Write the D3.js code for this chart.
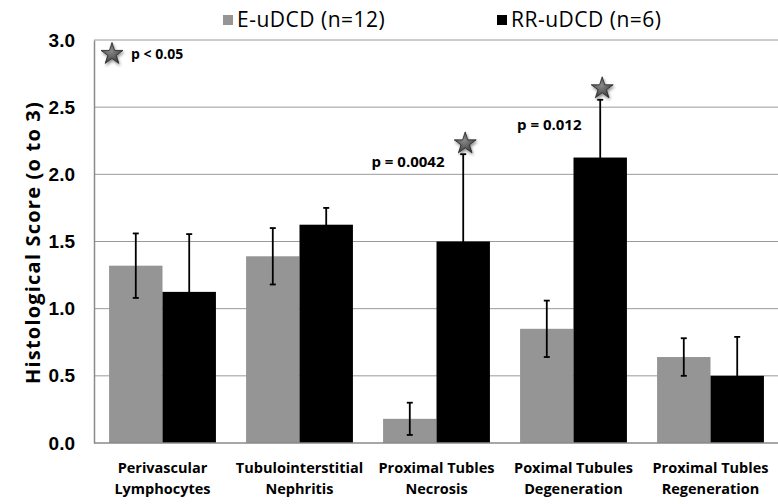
<!DOCTYPE html>
<html>
<head>
<meta charset="utf-8">
<script src="https://cdn.jsdelivr.net/npm/d3@7"></script>
<style>
  body { margin: 0; background: #fff; }
  svg { font-family: "Open Sans", sans-serif; font-weight: bold; }
</style>
</head>
<body>
<div id="chart"></div>
<script>
const categories = [
  ["Perivascular", "Lymphocytes"],
  ["Tubulointerstitial", "Nephritis"],
  ["Proximal Tubles", "Necrosis"],
  ["Poximal Tubules", "Degeneration"],
  ["Proximal Tubles", "Regeneration"]
];
const seriesNames = ["E-uDCD (n=12)", "RR-uDCD (n=6)"];
const eValues = [1.32, 1.39, 0.18, 0.85, 0.64];
const eErrors = [0.24, 0.21, 0.12, 0.21, 0.14];
const rrValues = [1.125, 1.625, 1.5, 2.125, 0.5];
const rrErrors = [0.43, 0.125, 0.65, 0.43, 0.29];
const yTicks = [0, 0.5, 1.0, 1.5, 2.0, 2.5, 3.0];
// significance markers on the RR series
const stars = [{ cat: 2, value: 2.23 }, { cat: 3, value: 2.64 }];
const pLabels = [{ cat: 2, value: 2.09, text: "p = 0.0042" }, { cat: 3, value: 2.37, text: "p = 0.012" }];

const width = 778;
const height = 504;
const margin = { top: 40, right: -1, bottom: 61, left: 94 };

const svg = d3.select("#chart").append("svg")
  .attr("width", width)
  .attr("height", height);

const x = d3.scaleBand()
  .domain(d3.range(categories.length))
  .range([margin.left, width - margin.right])
  .paddingInner(0.22)
  .paddingOuter(0.11);

const x1 = d3.scaleBand()
  .domain([0, 1])
  .range([0, x.bandwidth()]);

const y = d3.scaleLinear()
  .domain([0, 3])
  .range([height - margin.bottom, margin.top]);

const colors = ["#959595", "#000000"];

// gridlines
svg.append("g")
  .selectAll("line")
  .data(yTicks.slice(1))
  .join("line")
  .attr("x1", margin.left)
  .attr("x2", width)
  .attr("y1", d => y(d))
  .attr("y2", d => y(d))
  .attr("stroke", "#9a9a9a")
  .attr("stroke-width", 1);

// y axis
const yAxis = svg.append("g")
  .attr("transform", `translate(${margin.left},0)`)
  .call(d3.axisLeft(y).tickValues(yTicks).tickFormat(d3.format(".1f")).tickSize(0).tickPadding(19));
yAxis.select(".domain").attr("stroke", "#8a8a8a").attr("stroke-width", 1.5);
yAxis.selectAll("text").attr("font-size", 19).attr("fill", "#000").attr("font-family", null);

// bars
const series = [
  { values: eValues, errors: eErrors },
  { values: rrValues, errors: rrErrors }
];

series.forEach((s, si) => {
  const g = svg.append("g");
  g.selectAll("rect")
    .data(s.values)
    .join("rect")
    .attr("x", (d, i) => x(i) + x1(si))
    .attr("y", d => y(d))
    .attr("width", x1.bandwidth())
    .attr("height", d => y(0) - y(d))
    .attr("fill", colors[si]);
});

// error bars
series.forEach((s, si) => {
  const g = svg.append("g").attr("stroke", "#000").attr("stroke-width", 1.8);
  s.values.forEach((v, i) => {
    const cx = x(i) + x1(si) + x1.bandwidth() / 2;
    const top = y(v + s.errors[i]);
    const bot = y(v - s.errors[i]);
    g.append("line").attr("x1", cx).attr("x2", cx).attr("y1", top).attr("y2", bot);
    g.append("line").attr("x1", cx - 3).attr("x2", cx + 3).attr("y1", top).attr("y2", top);
    g.append("line").attr("x1", cx - 3).attr("x2", cx + 3).attr("y1", bot).attr("y2", bot);
  });
});

// bottom axis line
svg.append("line")
  .attr("x1", margin.left)
  .attr("x2", width)
  .attr("y1", y(0))
  .attr("y2", y(0))
  .attr("stroke", "#8a8a8a")
  .attr("stroke-width", 1.5);

// x labels
const xl = svg.append("g");
categories.forEach((c, i) => {
  const cx = x(i) + x.bandwidth() / 2;
  const t = xl.append("text")
    .attr("y", 473)
    .attr("text-anchor", "middle")
    .attr("font-size", 14.5);
  t.append("tspan").attr("x", cx).text(c[0]);
  t.append("tspan").attr("x", cx).attr("dy", 21).text(c[1]);
});

// star marker
const defs = svg.append("defs");
const grad = defs.append("radialGradient").attr("id", "starGrad").attr("cx", "45%").attr("cy", "40%").attr("r", "60%");
grad.append("stop").attr("offset", "0%").attr("stop-color", "#8a8a8a");
grad.append("stop").attr("offset", "100%").attr("stop-color", "#3e3e3e");
const shadow = defs.append("filter").attr("id", "shadow").attr("x", "-50%").attr("y", "-50%").attr("width", "200%").attr("height", "200%");
shadow.append("feDropShadow").attr("dx", 1).attr("dy", 2).attr("stdDeviation", 1.5).attr("flood-color", "#000").attr("flood-opacity", 0.45);

const starPath = d3.symbol().type(d3.symbolStar).size(150)();

function drawStar(cx, cy) {
  svg.append("path")
    .attr("d", starPath)
    .attr("transform", `translate(${cx},${cy})`)
    .attr("fill", "url(#starGrad)")
    .attr("stroke", "#222")
    .attr("stroke-width", 0.8)
    .attr("filter", "url(#shadow)");
}

stars.forEach(s => {
  drawStar(x(s.cat) + x1(1) + x1.bandwidth() / 2 + 2, y(s.value));
});

pLabels.forEach(p => {
  svg.append("text")
    .attr("x", x(p.cat) + x1(1) + 8)
    .attr("y", y(p.value))
    .attr("dy", "0.35em")
    .attr("text-anchor", "end")
    .attr("font-size", 15)
    .text(p.text);
});

// key in the corner
drawStar(112, 54);
svg.append("text")
  .attr("x", 131)
  .attr("y", 54)
  .attr("dy", "0.35em")
  .attr("font-size", 14)
  .text("p < 0.05");

// legend
const legendX = [223, 497];
seriesNames.forEach((name, i) => {
  svg.append("rect")
    .attr("x", legendX[i])
    .attr("y", 15)
    .attr("width", 10)
    .attr("height", 10)
    .attr("fill", colors[i]);
  svg.append("text")
    .attr("x", legendX[i] + 14)
    .attr("y", 20)
    .attr("dy", "0.35em")
    .attr("font-size", 21)
    .attr("letter-spacing", 0.5)
    .attr("font-weight", "normal")
    .text(name);
});

// y axis title
svg.append("text")
  .attr("transform", `translate(33,${(y(0) + y(3)) / 2 + 1}) rotate(-90)`)
  .attr("text-anchor", "middle")
  .attr("dy", "0.35em")
  .attr("font-size", 20)
  .attr("letter-spacing", 1.2)
  .text("Histological Score (o to 3)");
</script>
</body>
</html>
